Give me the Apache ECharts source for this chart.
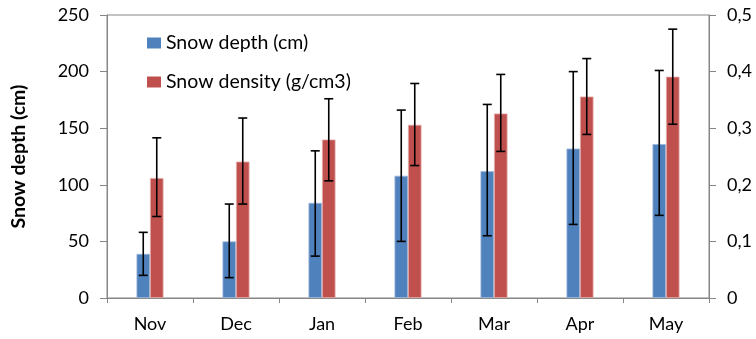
<!DOCTYPE html>
<html>
<head>
<meta charset="utf-8">
<script src="https://cdn.jsdelivr.net/npm/echarts@6/dist/echarts.min.js"></script>
<style>html,body{margin:0;padding:0;background:#fff;}#c{width:756px;height:339px;}</style>
</head>
<body>
<div id="c"></div>
<script>
var categories = ['Nov', 'Dec', 'Jan', 'Feb', 'Mar', 'Apr', 'May'];
var depth = [39, 50, 84, 108, 112, 132, 136];
var depthLow = [20, 18, 37, 50, 55, 65, 73];
var depthHigh = [58, 83, 130, 166, 171, 200, 201];
var density = [0.212, 0.241, 0.280, 0.306, 0.326, 0.356, 0.391];
var densityLow = [0.144, 0.166, 0.207, 0.234, 0.259, 0.289, 0.307];
var densityHigh = [0.283, 0.318, 0.352, 0.379, 0.395, 0.423, 0.475];
var depthTicks = [0, 50, 100, 150, 200, 250];
var densityTicks = ['0', '0,1', '0,2', '0,3', '0,4', '0,5'];

var FONT = 'Lato';
var axisGray = '#868686';

function errData(lo, hi) {
  return categories.map(function (c, i) { return [i, lo[i], hi[i]]; });
}
function errRender(offset) {
  return function (params, api) {
    var i = api.value(0);
    var p1 = api.coord([i, api.value(1)]);
    var p2 = api.coord([i, api.value(2)]);
    var x = p1[0] + offset;
    var cap = 4.5;
    var st = { stroke: '#000', lineWidth: 1.6 };
    return {
      type: 'group',
      children: [
        { type: 'line', shape: { x1: x, y1: p1[1], x2: x, y2: p2[1] }, style: st },
        { type: 'line', shape: { x1: x - cap, y1: p1[1], x2: x + cap, y2: p1[1] }, style: st },
        { type: 'line', shape: { x1: x - cap, y1: p2[1], x2: x + cap, y2: p2[1] }, style: st }
      ]
    };
  };
}

var chart = echarts.init(document.getElementById('c'), null, { renderer: 'canvas' });
chart.setOption({
  animation: false,
  textStyle: { fontFamily: FONT },
  grid: { left: 107, right: 47, top: 15, bottom: 41, show: true, borderColor: axisGray, borderWidth: 1 },
  legend: {
    orient: 'vertical', left: 147, top: 33, padding: 0, itemWidth: 14, itemHeight: 11, itemGap: 19,
    icon: 'rect',
    textStyle: { fontFamily: FONT, fontSize: 19.5, color: '#000', lineHeight: 19 },
    data: ['Snow depth (cm)', 'Snow density (g/cm3)'],
    itemStyle: { borderWidth: 0 }
  },
  xAxis: {
    type: 'category', data: categories,
    axisLine: { lineStyle: { color: axisGray, width: 1 } },
    axisTick: { show: true, length: 5, lineStyle: { color: axisGray } },
    axisLabel: { fontFamily: FONT, fontSize: 18, color: '#000', margin: 17 }
  },
  yAxis: [
    {
      type: 'value', min: 0, max: 250, interval: 50,
      name: 'Snow depth (cm)', nameLocation: 'middle', nameGap: 78, nameRotate: 90,
      nameTextStyle: { fontFamily: FONT, fontSize: 19.5, fontWeight: 'bold', color: '#000' },
      axisLine: { show: true, lineStyle: { color: axisGray } },
      axisTick: { show: true, length: 7, lineStyle: { color: axisGray } },
      axisLabel: { fontFamily: FONT, fontSize: 18, color: '#000', margin: 18,
        formatter: function (v) { return String(depthTicks[Math.round(v / 50)]); } },
      splitLine: { show: false }
    },
    {
      type: 'value', min: 0, max: 0.5, interval: 0.1, position: 'right',
      axisLine: { show: true, lineStyle: { color: axisGray } },
      axisTick: { show: true, length: 7, lineStyle: { color: axisGray } },
      axisLabel: { fontFamily: FONT, fontSize: 18, color: '#000', margin: 18,
        formatter: function (v) { return densityTicks[Math.round(v * 10)]; } },
      splitLine: { show: false }
    }
  ],
  series: [
    {
      name: 'Snow depth (cm)', type: 'bar', yAxisIndex: 0, data: depth,
      barWidth: 13.5, barGap: '0%',
      itemStyle: { color: '#4F81BD', borderColor: '#9DB7DB', borderWidth: 0.8 }
    },
    {
      name: 'Snow density (g/cm3)', type: 'bar', yAxisIndex: 1, data: density,
      barWidth: 13.5, barGap: '0%',
      itemStyle: { color: '#C0504D', borderColor: '#E3A9A7', borderWidth: 0.8 }
    },
    {
      type: 'custom', yAxisIndex: 0, data: errData(depthLow, depthHigh),
      renderItem: errRender(-6.75), encode: { x: 0, y: [1, 2] }, z: 10, silent: true
    },
    {
      type: 'custom', yAxisIndex: 1, data: errData(densityLow, densityHigh),
      renderItem: errRender(6.75), encode: { x: 0, y: [1, 2] }, z: 10, silent: true
    }
  ]
});
</script>
</body>
</html>
